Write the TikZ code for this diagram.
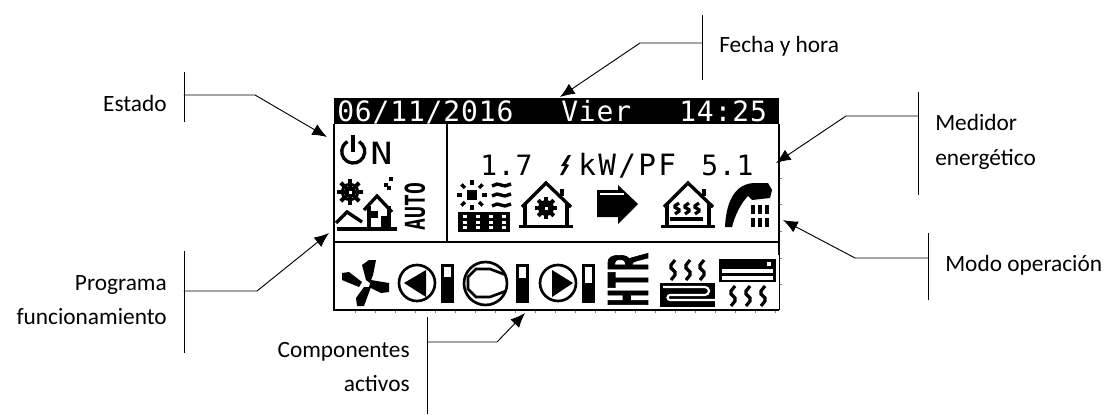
\documentclass[tikz,border=0pt]{standalone}
\usepackage{fontspec}
\usepackage{tikz}
\usetikzlibrary{arrows.meta}
\setmainfont{Carlito}
\newfontfamily\lcdfont[LetterSpace=3]{DejaVu Sans Mono}
\newfontfamily\lcdwide[LetterSpace=8]{DejaVu Sans Mono}
\newfontfamily\lcdplain{DejaVu Sans Mono}
\newfontfamily\lcdheavy[BoldFeatures={FakeBold=2}]{DejaVu Sans Mono}
\tikzset{>={Latex[length=11pt,width=9pt]}}
\tikzstyle{callout}=[->,line width=0.7pt,line cap=round]
\tikzstyle{bracket}=[line width=0.7pt]
\tikzstyle{lbl}=[font=\fontsize{17.5}{26}\selectfont,inner sep=0]
\tikzstyle{lcdline}=[line width=2.5pt,black]
\tikzstyle{lcdtext}=[font=\lcdfont\fontsize{21}{21}\selectfont,anchor=base west,inner sep=0]
\newcommand{\flake}[3]{%
  \begin{scope}[shift={(#1,#2)}]
    \foreach \a in {0,45,90,135} \draw[line width=3pt] (\a:#3) -- (\a+180:#3);
    \draw[line width=2pt] (0,0) circle[radius=#3*0.6];
    \fill[white] (-1.5,-1.5) rectangle (1.5,1.5);
  \end{scope}}
\newcommand{\wiggle}[3]{%
  \draw[line width=2.4pt,shift={(#1,#2)},yscale=#3] (2,0) -- (-2,5) -- (-2,8) -- (2,12) -- (2,15) -- (-2,20);}
\newcommand{\house}[1]{%
  \begin{scope}[shift={(#1,0)}]
    \draw[lcdline] (-24,207) -- (0,183) -- (25,207);
    \draw[lcdline] (-21,204) -- (-21,226);
    \draw[lcdline] (21,204) -- (21,226);
    \draw[lcdline] (16,189) -- (16,196);
    \draw[lcdline] (-27,226.5) -- (27,226.5);
  \end{scope}}
\newcommand{\pumpbar}[4]{%
  \fill (#1,264) rectangle (#1+12.5,303);
  \fill[white] (#1+3,267) rectangle (#1+9.5,#2);
  \draw[line width=2pt] (#3,283) circle[radius=18];
  \fill #4;}

\begin{document}
\begin{tikzpicture}[x=0.75pt,y=-0.75pt]
  \useasboundingbox (0,0) rectangle (1109,414);

  % labels
  \node[lbl,anchor=east] (estado) at (167,103) {Estado};
  \node[lbl,anchor=west] (fecha) at (719,46) {Fecha y hora};
  \node[lbl,align=left,anchor=west] (medidor) at (935,142) {Medidor\\energético};
  \node[lbl,anchor=west] (modo) at (945,265) {Modo operación};
  \node[lbl,align=right,anchor=east] (programa) at (167,300) {Programa\\funcionamiento};
  \node[lbl,align=right,anchor=east] (componentes) at (410,367) {Componentes\\activos};

  % display frame
  \coordinate (TL) at (334,98);
  \coordinate (BR) at (779,310);
  \fill (TL) rectangle (779,124);
  \draw[line width=1.3pt] (334,124) -- (334,310) -- (779,310);
  \draw[line width=1.5pt] (779,124) -- (779,255);
  \draw[line width=0.7pt] (779,255) -- (779,310);
  \draw[line width=1.5pt] (334,242) -- (779,242);
  \draw[line width=1.5pt] (446.5,124) -- (446.5,242);
  \foreach \x in {355,375,...,775} \draw[line width=0.7pt,gray] (\x,311) -- (\x,313);
  \foreach \y in {178,204,231,258,284} \draw[line width=0.7pt,gray] (780,\y) -- (782,\y);

  % callouts
  \coordinate (e1) at (184,72);  \coordinate (e2) at (184,122);
  \coordinate (e3) at (184,95);  \coordinate (e4) at (255,95);
  \coordinate (e5) at (327,137);
  \draw[bracket] (e1) -- (e2);
  \draw[callout] (e3) -- (e4) -- (e5);

  \coordinate (f1) at (702,15);  \coordinate (f2) at (702,80);
  \coordinate (f3) at (702,43);  \coordinate (f4) at (640,43);
  \coordinate (f5) at (560,97);
  \draw[bracket] (f1) -- (f2);
  \draw[callout] (f3) -- (f4) -- (f5);

  \coordinate (m1) at (918,92);  \coordinate (m2) at (918,195);
  \coordinate (m3) at (918,116); \coordinate (m4) at (846,116);
  \coordinate (m5) at (776,163);
  \draw[bracket] (m1) -- (m2);
  \draw[callout] (m3) -- (m4) -- (m5);

  \coordinate (o1) at (928,233); \coordinate (o2) at (928,300);
  \coordinate (o3) at (928,258); \coordinate (o4) at (855,258);
  \coordinate (o5) at (783,220);
  \draw[bracket] (o1) -- (o2);
  \draw[callout] (o3) -- (o4) -- (o5);

  \coordinate (p1) at (184,251); \coordinate (p2) at (184,353);
  \coordinate (p3) at (184,291); \coordinate (p4) at (257,291);
  \coordinate (p5) at (329,233);
  \draw[bracket] (p1) -- (p2);
  \draw[callout] (p3) -- (p4) -- (p5);

  \coordinate (c1) at (427,317); \coordinate (c2) at (427,414);
  \coordinate (c3) at (427,342); \coordinate (c4) at (497,342);
  \coordinate (c5) at (525,313);
  \draw[bracket] (c1) -- (c2);
  \draw[callout] (c3) -- (c4) -- (c5);

  % display text
  \node[lcdtext,white] (date) at (337,121) {06/11/2016};
  \node[lcdtext,white] (day) at (561,121) {Vier};
  \node[lcdtext,white] (time) at (679,121) {14:25};
  \node[lcdtext] (cop1) at (480,175) {1.7};
  \node[lcdtext,font=\lcdwide\fontsize{22}{22}\selectfont] (unit) at (578,175) {kW/PF};
  \node[lcdtext] (cop2) at (701,175) {5.1};
  \fill (568,155) -- (561,166) -- (565,166) -- (560,175) -- (563,175) -- (569,165) -- (566,164) -- (571,155) -- cycle;

  % on
  \draw[lcdline] (359,141.6) arc[start angle=-60,end angle=240,radius=11.5];
  \draw[line width=3pt] (353,135) -- (353,152);
  \node[lcdtext,font=\lcdfont\fontsize{23}{23}\selectfont,xscale=1.2,transform shape] (on) at (370,164) {N};

  % program icon
  \flake{350}{192}{13}
  \draw[lcdline] (336,223) -- (347,212) -- (362,222);
  \draw[lcdline] (337,229) -- (397,229);
  \draw[lcdline] (364,210) -- (377,196) -- (392,212);
  \draw[lcdline] (369,206) -- (369,228);
  \draw[lcdline] (389,206) -- (389,228);
  \fill (371,211) rectangle (378,218);
  \fill (381,216) rectangle (388,229);
  \fill (384,183) rectangle (388,187);
  \fill (389,177) rectangle (393,181);
  \fill (387,186) rectangle (391,190);
  \node[rotate=90,xscale=.72,transform shape,inner sep=0,font=\lcdplain\bfseries\fontsize{20.5}{20.5}\selectfont] (auto) at (415,206.5) {AUTO};

  % sun and solar panel
  \fill (467,190) rectangle (477,200);
  \foreach \a in {0,45,...,315} \draw[lcdline] ([shift={(472,195)}]\a:10) -- ([shift={(472,195)}]\a:15);
  \foreach \y in {185,195,205} \draw[lcdline] (492,\y+1) -- (497,\y-1) -- (505,\y+1) -- (511,\y-1);
  \fill (458,212) rectangle (510,232);
  \foreach \x in {465,478,491,504} \foreach \y in {216,222,227}
    \fill[white] (\x-2,\y-1.5) rectangle (\x+2,\y+1.5);

  % houses
  \house{546}
  \flake{546}{208}{11}
  \house{688}
  \foreach \x in {677,687,697} {\wiggle{\x}{203}{0.55}}
  \draw[lcdline] (670,219) -- (703,219);

  % arrow
  \fill (597,190) -- (618,190) -- (618,185) -- (638,204) -- (618,224) -- (618,217) -- (597,217) -- cycle;
  \draw[white,line width=1.5pt] (600,194) -- (624,194);

  % shower
  \fill (725,227) .. controls (726,205) and (733,182) .. (757,183) -- (768,183) -- (772,190) -- (770,198) -- (752,200) -- (748,196) .. controls (741,203) and (735,215) .. (732,227) -- cycle;
  \foreach \x in {753,760,767} {
    \draw[line width=2.4pt] (\x,205) -- (\x,214);
    \draw[line width=2.4pt] (\x,218) -- (\x,227);
  }

  % fan
  \fill (366,280) -- (362,265) -- (369,260) -- (376,260) -- (373,275) -- (370,283) -- cycle;
  \fill (371,280) -- (389,283) -- (389,292) -- (381,293) -- (369,287) -- cycle;
  \fill (364,287) -- (356,298) -- (357,306) -- (364,306) -- (371,287) -- cycle;
  \fill (362,282) -- (349,272) -- (342,273) -- (342,280) -- (359,287) -- cycle;

  % pumps and compressor
  \pumpbar{441}{277}{417}{(404,283) -- (426,270) -- (426,297) -- cycle}
  \draw[line width=2pt] (485.5,283.5) circle[radius=21.5];
  \draw[line width=2pt] (506,275) -- (490,269) -- (476,269) -- (468,277) -- (468,289) -- (476,297) -- (490,297) -- (506,291);
  \fill (516,264) rectangle (529,303);
  \fill[white] (519,267) rectangle (526,278);
  \pumpbar{582}{283}{558}{(552,270) -- (573,283) -- (552,297) -- cycle}

  % heater text
  \node[rotate=90,xscale=.54,transform shape,inner sep=0,font=\lcdheavy\bfseries\fontsize{41}{41}\selectfont] (htr) at (628,280) {HTR};

  % floor heating
  \foreach \x in {673,688,702} {\wiggle{\x}{260}{1}}
  \fill (660,283) rectangle (715,307);
  \draw[white,line width=1.6pt] (663,287) -- (705,287) arc[start angle=-90,end angle=90,radius=4] -- (670,295) arc[start angle=-90,end angle=-270,radius=2.5] -- (715,300);

  % air conditioner
  \fill (719,259) rectangle (776,282);
  \fill[white] (767,262) rectangle (771,266);
  \fill[white] (722,268.5) rectangle (773,273);
  \fill[white] (722,276) rectangle (773,280);
  \foreach \x in {733,748,763} {\wiggle{\x}{286}{1}}
\end{tikzpicture}
\end{document}
